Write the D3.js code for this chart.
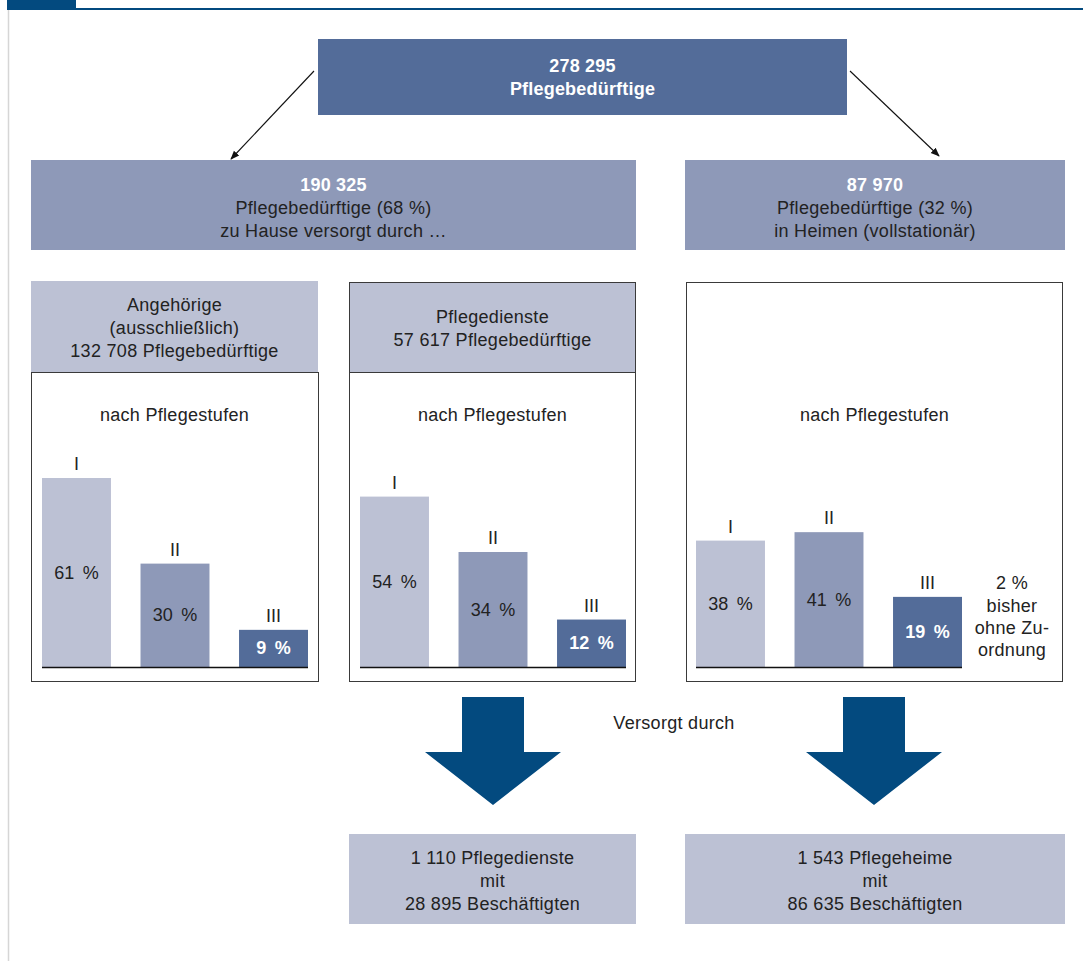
<!DOCTYPE html>
<html>
<head>
<meta charset="utf-8">
<script src="https://cdn.jsdelivr.net/npm/d3@7"></script>
<style>
  html, body { margin: 0; padding: 0; background: #fff; }
  svg { display: block; }
  text { font-family: "Liberation Sans", Arial, sans-serif; }
</style>
</head>
<body>
<div id="chart"></div>
<script>
// ---- Data ----
const stufen = ["I", "II", "III"];
const angehoerigeWerte = [61, 30, 9];
const pflegediensteWerte = [54, 34, 12];
const heimeWerte = [38, 41, 19];
const ohneZuordnung = 2;

const gesamt = "278 295";
const zuHause = "190 325";
const zuHauseAnteil = 68;
const heime = "87 970";
const heimeAnteil = 32;
const angehoerigeAnzahl = "132 708";
const pflegediensteAnzahl = "57 617";
const dienste = "1 110";
const diensteBeschaeftigte = "28 895";
const heimeAnzahl = "1 543";
const heimeBeschaeftigte = "86 635";

// ---- Styles ----
const C = {
  dark: "#034a7f",
  top: "#536c99",
  mid: "#8e99b8",
  light: "#bcc1d4",
  text: "#222222",
  frame: "#3a3a3a"
};
const barColors = [C.light, C.mid, C.top];

const W = 1083, H = 961;
const svg = d3.select("#chart").append("svg").attr("width", W).attr("height", H);

// header decoration
svg.append("rect").attr("x", 7).attr("y", 0).attr("width", 69).attr("height", 9).attr("fill", C.dark);
svg.append("rect").attr("x", 7).attr("y", 8).attr("width", W - 7).attr("height", 2).attr("fill", C.dark);
svg.append("line").attr("x1", 8.5).attr("x2", 8.5).attr("y1", 10).attr("y2", H)
  .attr("stroke", "#d6d6d6").attr("stroke-width", 1.5);

function textLines(x, baselines, lines, opts = {}) {
  const g = svg.append("g");
  lines.forEach((l, i) => {
    g.append("text")
      .attr("x", x).attr("y", baselines[i])
      .attr("text-anchor", "middle")
      .attr("font-size", (l.size || opts.size || 18) + "px")
      .attr("font-weight", l.bold ? "bold" : "normal")
      .attr("letter-spacing", l.bold ? "0.2px" : "0.3px")
      .attr("fill", l.color || opts.color || C.text)
      .text(l.t);
  });
  return g;
}

// ---- Top box ----
svg.append("rect").attr("x", 318).attr("y", 39).attr("width", 529).attr("height", 76).attr("fill", C.top);
textLines(582.5, [72, 95], [
  { t: gesamt, bold: true, color: "#fff", size: 18 },
  { t: "Pflegebedürftige", bold: true, color: "#fff", size: 18 }
]);

// thin arrows
const defs = svg.append("defs");
defs.append("marker").attr("id", "ah").attr("viewBox", "0 0 10 10")
  .attr("refX", 9).attr("refY", 5).attr("markerWidth", 9).attr("markerHeight", 9)
  .attr("markerUnits", "userSpaceOnUse").attr("orient", "auto")
  .append("path").attr("d", "M0,1 L10,5 L0,9 Z").attr("fill", "#111");
svg.append("line").attr("x1", 314).attr("y1", 71).attr("x2", 231).attr("y2", 159)
  .attr("stroke", "#111").attr("stroke-width", 1.1).attr("marker-end", "url(#ah)");
svg.append("line").attr("x1", 850).attr("y1", 71).attr("x2", 939).attr("y2", 156)
  .attr("stroke", "#111").attr("stroke-width", 1.1).attr("marker-end", "url(#ah)");

// ---- Second row ----
svg.append("rect").attr("x", 31).attr("y", 160).attr("width", 605).attr("height", 90).attr("fill", C.mid);
textLines(333.5, [191, 214, 237], [
  { t: zuHause, bold: true, color: "#fff", size: 18 },
  { t: `Pflegebedürftige (${zuHauseAnteil} %)` },
  { t: "zu Hause versorgt durch …" }
]);
svg.append("rect").attr("x", 685).attr("y", 160).attr("width", 380).attr("height", 90).attr("fill", C.mid);
textLines(875, [191, 214, 237], [
  { t: heime, bold: true, color: "#fff", size: 18 },
  { t: `Pflegebedürftige (${heimeAnteil} %)` },
  { t: "in Heimen (vollstationär)" }
]);

// ---- Panels ----
const baseY = 667;
const hScale = d3.scalePow().exponent(0.85).domain([0, 61]).range([0, 189]);

function panel(px, values) {
  const x = d3.scaleBand().domain(stufen).range([px + 11, px + 277]).paddingInner(0.3).paddingOuter(0);
  const g = svg.append("g");
  g.selectAll("rect.bar").data(values).join("rect").attr("class", "bar")
    .attr("x", (d, i) => x(stufen[i]))
    .attr("y", d => baseY - hScale(d))
    .attr("width", x.bandwidth())
    .attr("height", d => hScale(d))
    .attr("fill", (d, i) => barColors[i]);
  g.selectAll("text.cat").data(values).join("text").attr("class", "cat")
    .attr("x", (d, i) => x(stufen[i]) + x.bandwidth() / 2)
    .attr("y", d => baseY - hScale(d) - 8)
    .attr("text-anchor", "middle").attr("font-size", "18px").attr("fill", C.text)
    .text((d, i) => stufen[i]);
  g.selectAll("text.val").data(values).join("text").attr("class", "val")
    .attr("x", (d, i) => x(stufen[i]) + x.bandwidth() / 2)
    .attr("y", d => baseY - hScale(d) / 2 + 6)
    .attr("text-anchor", "middle")
    .attr("font-size", "18px")
    .attr("font-weight", (d, i) => i === 2 ? "bold" : "normal")
    .attr("fill", (d, i) => i === 2 ? "#fff" : C.text)
    .text(d => `${d}\u2009\u00a0%`);
  g.append("line").attr("x1", px + 11).attr("x2", px + 277).attr("y1", baseY + 0.5).attr("y2", baseY + 0.5)
    .attr("stroke", "#111").attr("stroke-width", 1.6);
  return x;
}

// Panel 1: Angehörige
svg.append("rect").attr("x", 31).attr("y", 281).attr("width", 287).attr("height", 91).attr("fill", C.light);
textLines(174.5, [311, 334, 357], [
  { t: "Angehörige" }, { t: "(ausschließlich)" }, { t: `${angehoerigeAnzahl} Pflegebedürftige` }
]);
svg.append("rect").attr("x", 31.5).attr("y", 372.5).attr("width", 287).attr("height", 309)
  .attr("fill", "none").attr("stroke", C.frame).attr("stroke-width", 1);
textLines(174.5, [421], [{ t: "nach Pflegestufen" }]);
panel(31, angehoerigeWerte);

// Panel 2: Pflegedienste
svg.append("rect").attr("x", 349.5).attr("y", 282.5).attr("width", 286).attr("height", 90)
  .attr("fill", C.light).attr("stroke", C.frame).attr("stroke-width", 1);
textLines(492.5, [323, 346], [
  { t: "Pflegedienste" }, { t: `${pflegediensteAnzahl} Pflegebedürftige` }
]);
svg.append("rect").attr("x", 349.5).attr("y", 372.5).attr("width", 286).attr("height", 309)
  .attr("fill", "none").attr("stroke", C.frame).attr("stroke-width", 1);
textLines(492.5, [421], [{ t: "nach Pflegestufen" }]);
panel(349, pflegediensteWerte);

// Panel 3: Heime
svg.append("rect").attr("x", 686.5).attr("y", 282.5).attr("width", 376).attr("height", 399)
  .attr("fill", "none").attr("stroke", C.frame).attr("stroke-width", 1);
textLines(874.5, [421], [{ t: "nach Pflegestufen" }]);
panel(685, heimeWerte);
textLines(1012, [589, 612, 634, 656], [
  { t: `${ohneZuordnung} %` }, { t: "bisher" }, { t: "ohne Zu-" }, { t: "ordnung" }
]);

// ---- Versorgt durch ----
textLines(674, [729], [{ t: "Versorgt durch" }]);
function bigArrow(cx) {
  const p = d3.path();
  p.moveTo(cx - 31, 697); p.lineTo(cx + 31, 697); p.lineTo(cx + 31, 752);
  p.lineTo(cx + 68, 752); p.lineTo(cx, 805); p.lineTo(cx - 68, 752);
  p.lineTo(cx - 31, 752); p.closePath();
  svg.append("path").attr("d", p.toString()).attr("fill", C.dark);
}
bigArrow(493);
bigArrow(874);

// ---- Bottom boxes ----
svg.append("rect").attr("x", 349).attr("y", 834).attr("width", 287).attr("height", 90).attr("fill", C.light);
textLines(492.5, [864, 887, 910], [
  { t: `${dienste} Pflegedienste` }, { t: "mit" }, { t: `${diensteBeschaeftigte} Beschäftigten` }
]);
svg.append("rect").attr("x", 685).attr("y", 834).attr("width", 380).attr("height", 90).attr("fill", C.light);
textLines(875, [864, 887, 910], [
  { t: `${heimeAnzahl} Pflegeheime` }, { t: "mit" }, { t: `${heimeBeschaeftigte} Beschäftigten` }
]);
</script>
</body>
</html>
